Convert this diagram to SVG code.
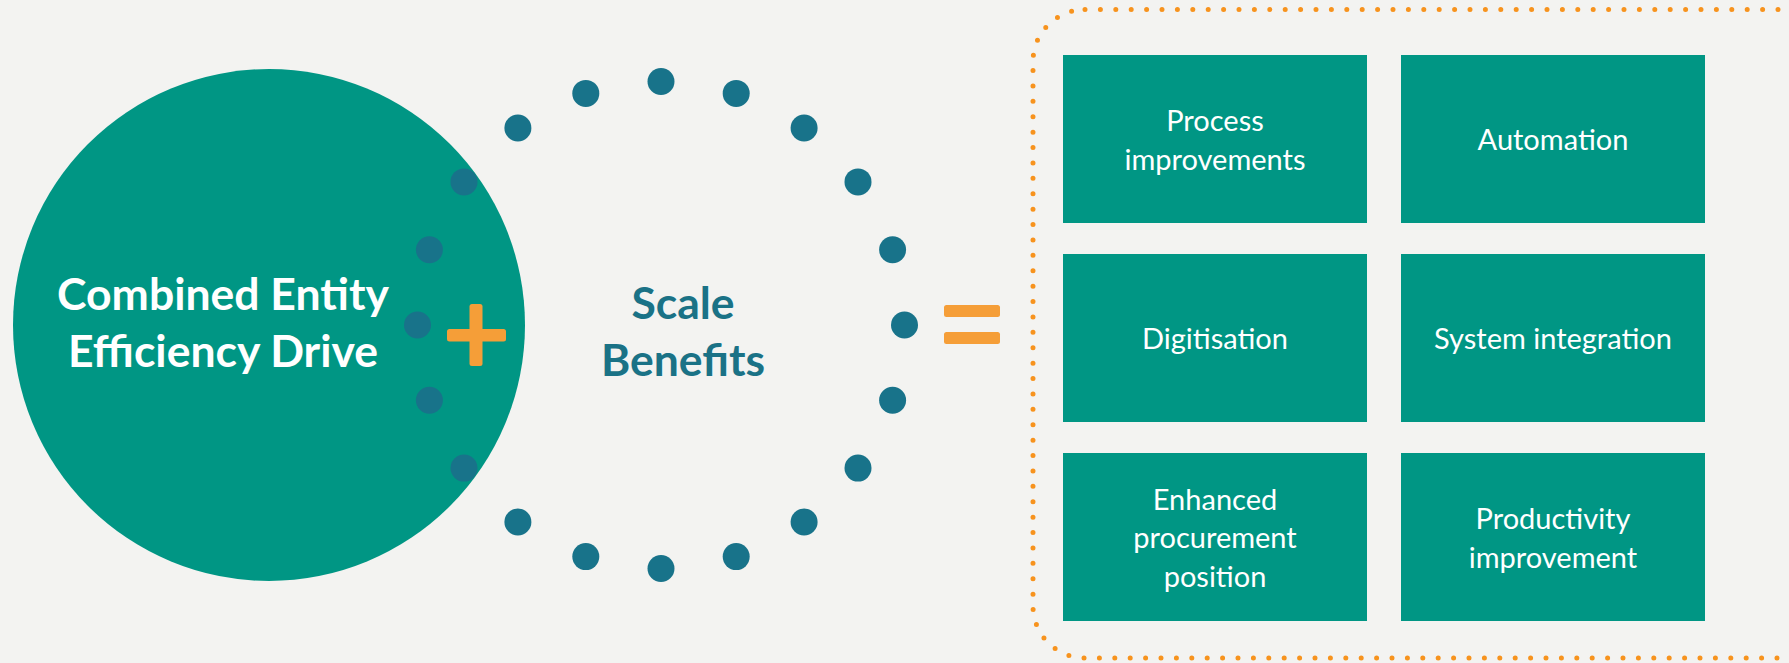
<svg xmlns="http://www.w3.org/2000/svg" width="1789" height="663" viewBox="0 0 1789 663">
<style>
.bg{fill:#F3F3F1}
.dot{fill:#18738A}
.box{fill:#009684}
.lbl{font-family:Lato,"Open Sans","Liberation Sans",sans-serif;font-size:29px;fill:#FFFFFF;text-anchor:middle}
.big{font-family:Lato,"Open Sans","Liberation Sans",sans-serif;font-weight:bold;font-size:44.5px;text-anchor:middle}
.orange{fill:#F59E38}
</style>
<rect class="bg" x="0" y="0" width="1789" height="663"/>
<g id="combined-entity">
<circle cx="269" cy="325" r="256" fill="#009684"/>
<text class="big" fill="#FFFFFF"><tspan x="223" y="309.5">Combined Entity</tspan><tspan x="223" y="366.5">Efficiency Drive</tspan></text>
</g>
<g id="scale-benefits">
<circle class="dot" cx="661" cy="81.5" r="13.5"/>
<circle class="dot" cx="736.2" cy="93.4" r="13.5"/>
<circle class="dot" cx="804.1" cy="128" r="13.5"/>
<circle class="dot" cx="858" cy="181.9" r="13.5"/>
<circle class="dot" cx="892.6" cy="249.8" r="13.5"/>
<circle class="dot" cx="904.5" cy="325" r="13.5"/>
<circle class="dot" cx="892.6" cy="400.2" r="13.5"/>
<circle class="dot" cx="858" cy="468.1" r="13.5"/>
<circle class="dot" cx="804.1" cy="522" r="13.5"/>
<circle class="dot" cx="736.2" cy="556.6" r="13.5"/>
<circle class="dot" cx="661" cy="568.5" r="13.5"/>
<circle class="dot" cx="585.8" cy="556.6" r="13.5"/>
<circle class="dot" cx="517.9" cy="522" r="13.5"/>
<circle class="dot" cx="464" cy="468.1" r="13.5"/>
<circle class="dot" cx="429.4" cy="400.2" r="13.5"/>
<circle class="dot" cx="417.5" cy="325" r="13.5"/>
<circle class="dot" cx="429.4" cy="249.8" r="13.5"/>
<circle class="dot" cx="464" cy="181.9" r="13.5"/>
<circle class="dot" cx="517.9" cy="128" r="13.5"/>
<circle class="dot" cx="585.8" cy="93.4" r="13.5"/>
<text class="big" fill="#1A7286"><tspan x="683" y="318.5">Scale</tspan><tspan x="683" y="375.5">Benefits</tspan></text>
</g>
<g id="plus">
<rect class="orange" x="469.5" y="304" width="13" height="62" rx="2.5"/>
<rect class="orange" x="447" y="329" width="59" height="12.5" rx="2.5"/>
</g>
<g id="equals">
<rect class="orange" x="944" y="305" width="56" height="12" rx="2.5"/>
<rect class="orange" x="944" y="332" width="56" height="12" rx="2.5"/>
</g>
<g id="outcomes">
<rect x="1033" y="9.5" width="820" height="648.5" rx="52" fill="none" stroke="#F7931E" stroke-width="5" stroke-linecap="round" stroke-dasharray="0 15.4"/>
</g>
<g id="process-improvements">
<rect class="box" x="1063" y="55" width="304" height="168"/>
<text class="lbl"><tspan x="1215" y="131">Process</tspan><tspan x="1215" y="169.5">improvements</tspan></text>
</g>
<g id="automation">
<rect class="box" x="1401" y="55" width="304" height="168"/>
<text class="lbl" x="1553" y="150">Automation</text>
</g>
<g id="digitisation">
<rect class="box" x="1063" y="254" width="304" height="168"/>
<text class="lbl" x="1215" y="349">Digitisation</text>
</g>
<g id="system-integration">
<rect class="box" x="1401" y="254" width="304" height="168"/>
<text class="lbl" x="1553" y="349">System integration</text>
</g>
<g id="enhanced-procurement">
<rect class="box" x="1063" y="453" width="304" height="168"/>
<text class="lbl"><tspan x="1215" y="509.5">Enhanced</tspan><tspan x="1215" y="548">procurement</tspan><tspan x="1215" y="586.5">position</tspan></text>
</g>
<g id="productivity-improvement">
<rect class="box" x="1401" y="453" width="304" height="168"/>
<text class="lbl"><tspan x="1553" y="529">Productivity</tspan><tspan x="1553" y="567.5">improvement</tspan></text>
</g>
</svg>
